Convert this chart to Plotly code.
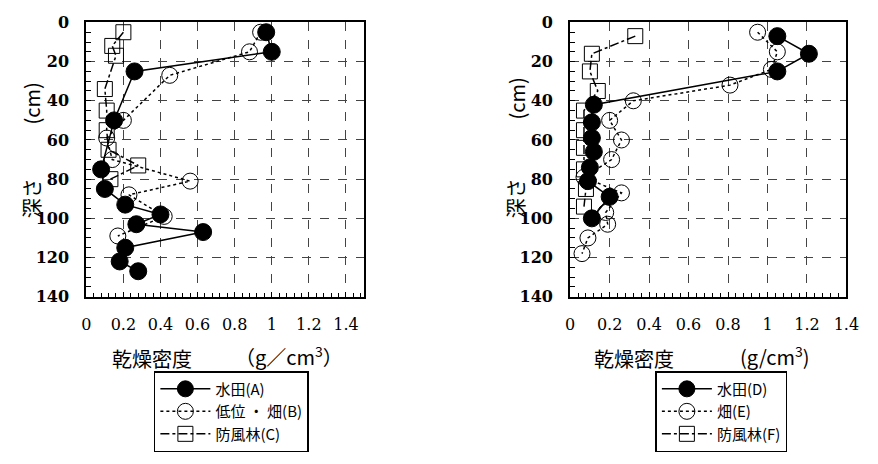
import plotly.graph_objects as go

# Left chart (A, B, C)
a_depth = [5, 15, 25, 50, 75, 85, 93, 98, 103, 107, 115, 122, 127]
a_dens = [0.97, 1.00, 0.26, 0.15, 0.08, 0.10, 0.21, 0.40, 0.27, 0.63, 0.21, 0.18, 0.28]
b_depth = [5, 15, 27, 50, 59, 70, 81, 88, 99, 109]
b_dens = [0.94, 0.88, 0.45, 0.20, 0.11, 0.14, 0.56, 0.23, 0.42, 0.17]
c_depth = [5, 12, 17, 34, 45, 55, 65, 73, 80]
c_dens = [0.20, 0.14, 0.16, 0.10, 0.11, 0.11, 0.12, 0.28, 0.13]

# Right chart (D, E, F)
d_depth = [7, 16, 25, 42, 51, 59, 66, 74, 81, 89, 100]
d_dens = [1.05, 1.21, 1.05, 0.12, 0.11, 0.11, 0.12, 0.10, 0.09, 0.20, 0.11]
e_depth = [5, 15, 24, 32, 40, 50, 60, 70, 79, 87, 97, 103, 110, 118]
e_dens = [0.95, 1.05, 1.02, 0.81, 0.32, 0.20, 0.26, 0.21, 0.07, 0.26, 0.18, 0.19, 0.09, 0.06]
f_depth = [7, 16, 25, 35, 45, 55, 64, 75, 85, 94]
f_dens = [0.33, 0.11, 0.10, 0.14, 0.07, 0.07, 0.07, 0.07, 0.08, 0.07]

names_left = ["水田(A)", "低位 ・ 畑(B)", "防風林(C)"]
names_right = ["水田(D)", "畑(E)", "防風林(F)"]
y_ticks = [0, 20, 40, 60, 80, 100, 120, 140]
x_ticks = [0, 0.2, 0.4, 0.6, 0.8, 1.0, 1.2, 1.4]
x_ticktext = ["0", "0.2", "0.4", "0.6", "0.8", "1", "1.2", "1.4"]

CJK = "Noto Sans CJK JP"
SERIF = "DejaVu Serif"

styles = [
    dict(line=dict(color="black", width=1.5, dash="solid"),
         marker=dict(symbol="circle", size=17, color="black", line=dict(color="black", width=1))),
    dict(line=dict(color="black", width=1.5, dash="dot"),
         marker=dict(symbol="circle-open", size=16, color="black", line=dict(color="black", width=1))),
    dict(line=dict(color="black", width=1.5, dash="dashdot"),
         marker=dict(symbol="square-open", size=15, color="black", line=dict(color="black", width=1))),
]

fig = go.Figure()
left_data = [(a_dens, a_depth), (b_dens, b_depth), (c_dens, c_depth)]
right_data = [(d_dens, d_depth), (e_dens, e_depth), (f_dens, f_depth)]

for i, (xs, ys) in enumerate(left_data):
    fig.add_trace(go.Scatter(x=xs, y=ys, mode="lines+markers", name=names_left[i],
                             xaxis="x", yaxis="y", legend="legend", **styles[i]))
for i, (xs, ys) in enumerate(right_data):
    fig.add_trace(go.Scatter(x=xs, y=ys, mode="lines+markers", name=names_right[i],
                             xaxis="x2", yaxis="y2", legend="legend2", **styles[i]))

W, H = 878, 464


def xdom(l, r):
    return [l / W, r / W]


ydom = [1 - 300 / H, 1 - 14 / H]

common_x = dict(
    tickmode="array", tickvals=x_ticks, ticktext=x_ticktext,
    showline=True, linecolor="black", linewidth=2, mirror=True,
    ticks="inside", ticklen=5, tickcolor="black",
    minor=dict(dtick=0.04, ticks="inside", ticklen=4, tickcolor="black", showgrid=False),
    showgrid=True, gridcolor="#444", griddash="dash", gridwidth=1,
    zeroline=False, tickfont=dict(family=SERIF, size=16, color="black"),
    ticklabelstandoff=12,
)
common_y = dict(
    tickmode="array", tickvals=y_ticks,
    autorange=False, range=[140, 0],
    showline=True, linecolor="black", linewidth=2, mirror=True,
    ticks="inside", ticklen=5, tickcolor="black",
    minor=dict(dtick=5, ticks="inside", ticklen=5, tickcolor="black", showgrid=False),
    showgrid=True, gridcolor="#444", griddash="dash", gridwidth=1,
    zeroline=False, tickfont=dict(family=SERIF, size=16, color="black", weight="bold"),
    ticklabelstandoff=12,
)

leg_common = dict(xanchor="left", yanchor="bottom",
                  bordercolor="black", borderwidth=1.5, bgcolor="white",
                  font=dict(family=CJK, size=15, color="black"), itemwidth=50,
                  tracegroupgap=0)

fig.update_layout(
    width=W, height=H,
    margin=dict(l=0, r=0, t=0, b=0),
    paper_bgcolor="white", plot_bgcolor="white",
    xaxis=dict(domain=xdom(83, 367), range=[0, 1.5], anchor="y", **common_x),
    yaxis=dict(domain=ydom, anchor="x", **common_y),
    xaxis2=dict(domain=xdom(577, 859), range=[0, 1.4], anchor="y2", **common_x),
    yaxis2=dict(domain=ydom, anchor="x2", **common_y),
    legend=dict(x=152 / W, y=1 - 462 / H, **leg_common),
    legend2=dict(x=664 / W, y=1 - 462 / H, **leg_common),
    showlegend=True,
)

ann_font = dict(family=CJK, size=20, color="black")
annotations = [
    dict(text="乾燥密度", x=150 / W, y=1 - 364 / H),
    dict(text="（g／cm<sup>3</sup>）", x=290 / W, y=1 - 362 / H),
    dict(text="乾燥密度", x=642 / W, y=1 - 364 / H),
    dict(text="(g/cm<sup>3</sup>)", x=786 / W, y=1 - 362 / H),
    dict(text="(cm)", x=28 / W, y=1 - 98 / H, textangle=-90),
    dict(text="深さ", x=28 / W, y=1 - 197 / H, textangle=-90),
    dict(text="(cm)", x=522 / W, y=1 - 93 / H, textangle=-90),
    dict(text="深さ", x=522 / W, y=1 - 197 / H, textangle=-90),
]
for a in annotations:
    fig.add_annotation(xref="paper", yref="paper", showarrow=False,
                       xanchor="center", yanchor="middle", font=ann_font, **a)

fig.write_html("out.html")
